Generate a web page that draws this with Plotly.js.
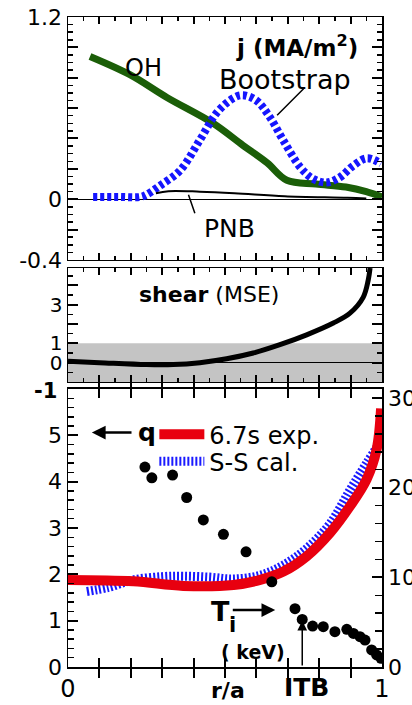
<!DOCTYPE html>
<html>
<head>
<meta charset="utf-8">
<script src="https://cdn.plot.ly/plotly-3.0.1.min.js"></script>
<style>html,body{margin:0;padding:0;background:#fff;}#chart{width:412px;height:705px;}</style>
</head>
<body>
<div id="chart"></div>
<script>
// ---- Panel 1: current densities j (MA/m^2) vs r/a ----
const rOH = [0.07, 0.197, 0.315, 0.462, 0.557, 0.634, 0.697, 0.79, 0.885, 0.95, 1.0];
const jOH = [0.94, 0.82, 0.67, 0.50, 0.355, 0.24, 0.125, 0.10, 0.08, 0.05, 0.015];
const rBS = [0.08, 0.16, 0.23, 0.25, 0.29, 0.357, 0.42, 0.474, 0.526, 0.557, 0.60, 0.643, 0.685, 0.74, 0.78, 0.824, 0.866, 0.908, 0.952, 0.997];
const jBS = [0.015, 0.015, 0.015, 0.03, 0.085, 0.19, 0.39, 0.57, 0.665, 0.685, 0.65, 0.54, 0.39, 0.21, 0.135, 0.11, 0.145, 0.22, 0.27, 0.235];
const rPNB = [0.28, 0.32, 0.42, 0.53, 0.69, 0.89, 0.95];
const jPNB = [0.04, 0.053, 0.05, 0.04, 0.02, 0.01, 0.005];

// ---- Panel 2: magnetic shear (MSE) ----
const rShear = [0.0, 0.10, 0.25, 0.335, 0.42, 0.505, 0.59, 0.675, 0.76, 0.845, 0.898, 0.94, 0.956, 0.962];
const shear  = [0.07, 0.0, -0.1, -0.1, 0.0, 0.2, 0.5, 0.93, 1.44, 2.05, 2.56, 3.38, 4.26, 4.9];

// ---- Panel 3: safety factor q and ion temperature Ti ----
const rQexp = [0.0, 0.208, 0.367, 0.527, 0.612, 0.686, 0.76, 0.835, 0.898, 0.951, 0.983, 0.997];
const qExp  = [1.88, 1.85, 1.75, 1.77, 1.88, 2.06, 2.39, 2.90, 3.47, 4.05, 4.70, 5.58];
const rQss  = [0.06, 0.13, 0.208, 0.30, 0.367, 0.45, 0.527, 0.612, 0.686, 0.76, 0.835, 0.898, 0.951, 0.994];
const qSS   = [1.63, 1.72, 1.88, 1.95, 1.96, 1.94, 1.90, 1.98, 2.20, 2.56, 3.10, 3.82, 4.40, 4.85];
const rTi = [0.245, 0.267, 0.333, 0.378, 0.431, 0.495, 0.567, 0.649, 0.723, 0.746, 0.779, 0.813, 0.850, 0.888, 0.909, 0.930, 0.946, 0.967, 0.983, 0.997];
const Ti  = [22.3, 21.1, 21.4, 18.9, 16.4, 14.8, 12.85, 9.5, 6.5, 5.3, 4.57, 4.5, 3.94, 4.2, 3.75, 3.38, 3.0, 1.9, 1.34, 0.97];

// tick labels
const y1Vals = [-0.4, -0.2, 0, 0.2, 0.4, 0.6, 0.8, 1.0, 1.2];
const y1Text = ['-0.4', '', '0', '', '', '', '', '', '1.2'];
const y2Vals = [-1, 0, 1, 2, 3, 4];
const y2Text = ['', '0', '1', '', '3', ''];
const y3Vals = [0, 1, 2, 3, 4, 5];
const y3Text = ['0', '1', '2', '3', '4', '5'];
const y4Vals = [0, 10, 20, 30];
const y4Text = ['0', '10', '20', '30'];
const x3Vals = [0, 0.1, 0.2, 0.3, 0.4, 0.5, 0.6, 0.7, 0.8, 0.9, 1.0];
const x3Text = ['0', '', '', '', '', '', '', '', '', '', '1'];

const FONT = 'DejaVu Sans';
const tickFont = {family: FONT, size: 22, color: '#000'};

const traces = [
  {x: rOH, y: jOH, xaxis: 'x', yaxis: 'y', mode: 'lines', line: {color: '#1b5e08', width: 7, shape: 'spline'}, showlegend: false},
  {x: rBS, y: jBS, xaxis: 'x', yaxis: 'y', mode: 'lines', line: {color: '#1515ff', width: 8, dash: '4px,3px', shape: 'spline'}, showlegend: false},
  {x: rPNB, y: jPNB, xaxis: 'x', yaxis: 'y', mode: 'lines', line: {color: '#000', width: 2, shape: 'spline'}, showlegend: false},
  {x: rShear, y: shear, xaxis: 'x2', yaxis: 'y2', mode: 'lines', line: {color: '#000', width: 5, shape: 'spline'}, showlegend: false},
  {x: rQss, y: qSS, xaxis: 'x3', yaxis: 'y3', mode: 'lines', name: 'S-S cal.', legend: 'legend2', line: {color: '#1a1aff', width: 9, dash: '2px,2px', shape: 'spline'}},
  {x: rQexp, y: qExp, xaxis: 'x3', yaxis: 'y3', mode: 'lines', name: '6.7s exp.', legend: 'legend', line: {color: '#e8000f', width: 10, shape: 'spline'}},
  {x: rTi, y: Ti, xaxis: 'x3', yaxis: 'y4', mode: 'markers', marker: {color: '#000', size: 11}, showlegend: false}
];

function xAxis(anchor, extra) {
  return Object.assign({
    anchor: anchor, domain: [0, 1], range: [0, 1], showgrid: false, zeroline: false,
    showline: true, linecolor: '#000', linewidth: 1.5, mirror: 'allticks',
    ticks: 'inside', tick0: 0, dtick: 0.1, ticklen: 7, tickwidth: 2, tickcolor: '#000',
    minor: {ticks: 'inside', dtick: 0.05, ticklen: 4, tickwidth: 1.5, tickcolor: '#000'},
    showticklabels: false, tickfont: tickFont
  }, extra || {});
}
function yAxis(domain, range, vals, text, extra) {
  return Object.assign({
    domain: domain, range: range, showgrid: false, zeroline: false,
    showline: true, linecolor: '#000', linewidth: 1.5, mirror: 'allticks',
    ticks: 'inside', tickmode: 'array', tickvals: vals, ticktext: text,
    ticklen: 10, tickwidth: 2, tickcolor: '#000', tickfont: tickFont
  }, extra || {});
}

const legendBase = {xanchor: 'left', yanchor: 'top', bgcolor: 'rgba(0,0,0,0)', borderwidth: 0,
  font: {family: FONT, size: 24, color: '#000'}, itemwidth: 45};

const layout = {
  width: 412, height: 705,
  margin: {l: 68, r: 30, t: 17, b: 38, pad: 0},
  paper_bgcolor: '#fff', plot_bgcolor: 'rgba(0,0,0,0)',
  font: {family: FONT, color: '#000'},
  xaxis: xAxis('y'),
  xaxis2: xAxis('y2'),
  xaxis3: xAxis('y3', {tickmode: 'array', tickvals: x3Vals, ticktext: x3Text, showticklabels: true, ticklen: 9, minor: {ticks: ''}, tickfont: {family: FONT, size: 24, color: '#000'}}),
  yaxis: yAxis([0.6262, 1], [-0.4, 1.2], y1Vals, y1Text, {anchor: 'x', zeroline: true, zerolinecolor: '#000', zerolinewidth: 1.2,
    minor: {ticks: 'inside', dtick: 0.05, tick0: 0, ticklen: 5, tickwidth: 1.5, tickcolor: '#000'}}),
  yaxis2: yAxis([0.4385, 0.6138], [-1, 4.9], y2Vals, y2Text, {anchor: 'x2', zeroline: true, zerolinecolor: '#000', zerolinewidth: 1.2,
    tickfont: {family: FONT, size: 20, color: '#000'},
    minor: {ticks: 'inside', dtick: 0.5, tick0: 0, ticklen: 5, tickwidth: 1.5, tickcolor: '#000'}}),
  yaxis3: yAxis([0, 0.4277], [0, 6], y3Vals, y3Text, {anchor: 'x3', mirror: false,
    minor: {ticks: 'inside', dtick: 0.2, tick0: 0, ticklen: 6, tickwidth: 1.5, tickcolor: '#000'}}),
  yaxis4: yAxis([0, 0.4277], [0, 31], y4Vals, y4Text, {anchor: 'x3', overlaying: 'y3', side: 'right', mirror: false,
    minor: {ticks: 'inside', dtick: 2, tick0: 0, ticklen: 7, tickwidth: 1.5, tickcolor: '#000'}}),
  shapes: [
    {type: 'rect', xref: 'x2 domain', x0: 0, x1: 1, yref: 'y2', y0: -1, y1: 1, fillcolor: '#c4c4c4', line: {width: 0}, layer: 'below'}
  ],
  showlegend: true,
  legend: Object.assign({x: 0.275, y: 0.392}, legendBase),
  legend2: Object.assign({x: 0.275, y: 0.3505}, legendBase),
  annotations: [
    {xref: 'x', yref: 'y', x: 0.93, y: 1.01, xanchor: 'right', text: '<b>j (MA/m<sup>2</sup>)</b>', showarrow: false, font: {size: 23}},
    {xref: 'x', yref: 'y', x: 0.242, y: 0.862, text: 'OH', showarrow: false, font: {size: 24}},
    {xref: 'x', yref: 'y', x: 0.691, y: 0.79, text: 'Bootstrap', showarrow: false, font: {size: 27}},
    {xref: 'x', yref: 'y', x: 0.513, y: -0.19, text: 'PNB', showarrow: false, font: {size: 25}},
    {xref: 'x', yref: 'y', axref: 'x', ayref: 'y', x: 0.666, y: 0.553, ax: 0.755, ay: 0.737, text: '', showarrow: true, arrowhead: 0, arrowwidth: 1.5, arrowcolor: '#000'},
    {xref: 'x', yref: 'y', axref: 'x', ayref: 'y', x: 0.404, y: -0.092, ax: 0.382, ay: 0.04, text: '', showarrow: true, arrowhead: 0, arrowwidth: 1.5, arrowcolor: '#000'},
    {xref: 'x2', yref: 'y2', x: 0.449, y: 3.52, text: '<b>shear</b> (MSE)', showarrow: false, font: {size: 22}},
    {xref: 'paper', yref: 'paper', x: -0.028, y: 0.4246, xanchor: 'right', yanchor: 'middle', text: '<b>-1</b>', showarrow: false, font: {size: 21}},
    {xref: 'x3', yref: 'y3', x: 0.25, y: 5.06, text: '<b>q</b>', showarrow: false, font: {size: 25}},
    {xref: 'x3', yref: 'y3', axref: 'x3', ayref: 'y3', x: 0.076, y: 5.06, ax: 0.207, ay: 5.06, text: '', showarrow: true, arrowhead: 2, arrowsize: 1.1, arrowwidth: 2.5, arrowcolor: '#000'},
    {xref: 'x3', yref: 'y3', x: 0.487, y: 1.19, text: '<b>T</b>', showarrow: false, font: {size: 27}},
    {xref: 'x3', yref: 'y3', x: 0.524, y: 0.90, text: '<b>i</b>', showarrow: false, font: {size: 21}},
    {xref: 'x3', yref: 'y3', axref: 'x3', ayref: 'y3', x: 0.66, y: 1.23, ax: 0.52, ay: 1.23, text: '', showarrow: true, arrowhead: 2, arrowsize: 1.1, arrowwidth: 2.5, arrowcolor: '#000'},
    {xref: 'x3', yref: 'y3', x: 0.59, y: 0.33, text: '<b>( keV)</b>', showarrow: false, font: {size: 19}},
    {xref: 'x3', yref: 'y3', axref: 'x3', ayref: 'y3', x: 0.746, y: 1.0, ax: 0.746, ay: 0.0, text: '', showarrow: true, arrowhead: 2, arrowsize: 1.3, arrowwidth: 1.5, arrowcolor: '#000'},
    {xref: 'x3', yref: 'paper', x: 0.761, y: -0.0323, yanchor: 'middle', text: '<b>ITB</b>', showarrow: false, font: {size: 25}},
    {xref: 'x3', yref: 'paper', x: 0.51, y: -0.0354, yanchor: 'middle', text: '<b>r/a</b>', showarrow: false, font: {size: 22}}
  ]
};

Plotly.newPlot('chart', traces, layout, {staticPlot: true, displayModeBar: false});
</script>
</body>
</html>
